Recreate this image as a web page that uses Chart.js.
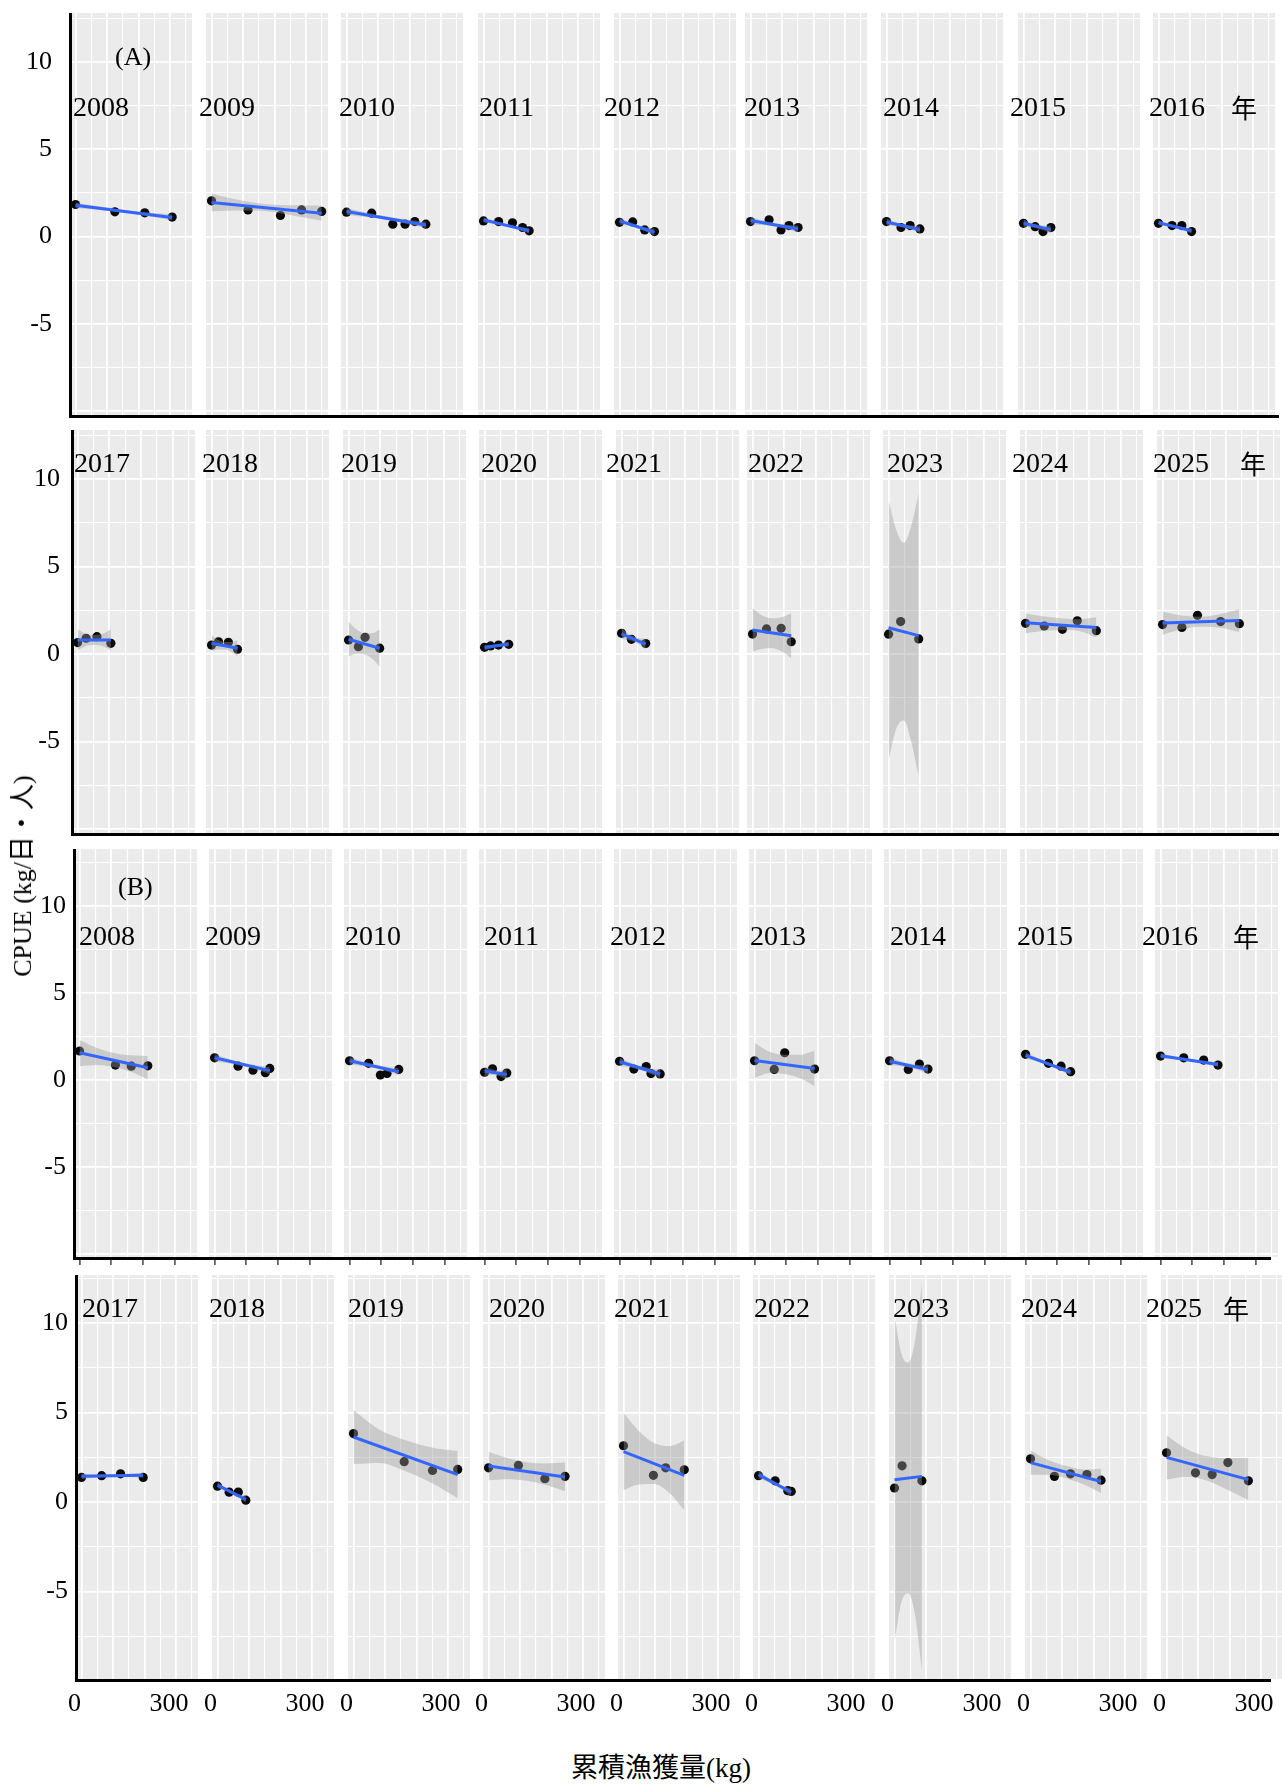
<!DOCTYPE html>
<html>
<head>
<meta charset="utf-8">
<script src="https://cdn.jsdelivr.net/npm/chart.js@4.4.1/dist/chart.umd.min.js"></script>
<style>
  html, body { margin: 0; padding: 0; background: #fff; }
  body { width: 1282px; height: 1787px; position: relative; overflow: hidden;
         font-family: "Liberation Serif", "Noto Sans CJK JP", serif; color: #000; }
  canvas { position: absolute; }
  .t { position: absolute; white-space: nowrap; line-height: 1; }
  .rule { position: absolute; background: #000; }
</style>
</head>
<body>
<script>
// ---- data: cumulative catch (kg) and CPUE (kg/day/person), per fishing year ----
const years = ['2008','2009','2010','2011','2012','2013','2014','2015','2016',
               '2017','2018','2019','2020','2021','2022','2023','2024','2025'];

// (A)
const catchA = [
  [0,125,220,307], [0,116,219,286,350], [0,80,147,186,217,252], [0,48,92,124,145], [0,42,80,111],
  [0,59,97,122,151], [0,46,75,106], [0,37,62,87], [0,43,74,105],
  [0,27,61,105], [0,22,53,82], [0,31,52,98], [0,19,44,76], [0,31,76],
  [0,44,90,122], [0,38,95], [0,59,116,163,223], [0,61,110,183,242]
];
const cpueA = [
  [1.84,1.42,1.36,1.12], [2.05,1.53,1.21,1.53,1.44], [1.40,1.34,0.71,0.71,0.86,0.71], [0.90,0.86,0.79,0.52,0.33], [0.82,0.84,0.38,0.29],
  [0.86,0.96,0.38,0.63,0.52], [0.86,0.52,0.63,0.44], [0.76,0.57,0.29,0.52], [0.76,0.63,0.63,0.29],
  [0.65,0.90,0.99,0.61], [0.51,0.70,0.67,0.27], [0.80,0.42,0.95,0.33], [0.38,0.46,0.51,0.55], [1.18,0.84,0.60],
  [1.14,1.43,1.47,0.70], [1.13,1.85,0.86], [1.75,1.60,1.41,1.90,1.33], [1.68,1.52,2.21,1.85,1.73]
];
// fitted CPUE at the first and last catch value
const fitA = [
  [1.80,1.10], [1.95,1.34], [1.44,0.67], [0.96,0.33], [0.90,0.25], [0.92,0.44], [0.84,0.40], [0.76,0.40], [0.80,0.33],
  [0.80,0.80], [0.61,0.33], [0.84,0.33], [0.37,0.57], [1.15,0.57], [1.37,1.04], [1.50,1.05], [1.79,1.52], [1.77,1.92]
];
// confidence band at 0, 1/4, 1/2, 3/4 and the whole of each year's catch range
const bandHiA = [
  [1.96,1.73,1.53,1.38,1.26], [2.45,2.10,1.85,1.79,1.77], [1.64,1.38,1.16,0.98,0.85], [1.11,0.89,0.72,0.58,0.48], [1.10,0.86,0.68,0.53,0.45],
  [1.14,0.93,0.78,0.68,0.64], [1.04,0.85,0.72,0.63,0.60], [0.98,0.81,0.69,0.63,0.62], [0.95,0.78,0.65,0.55,0.48],
  [1.41,1.15,1.09,1.15,1.41], [1.06,0.82,0.69,0.68,0.78], [1.84,1.41,1.19,1.18,1.42], [0.52,0.52,0.55,0.62,0.72], [1.45,1.19,1.01,0.90,0.87],
  [2.61,2.20,2.04,2.10,2.33], [8.8,7.1,6.35,7.3,9.2], [2.32,2.15,2.04,1.98,2.10], [2.42,2.20,2.13,2.28,2.55]
];
const bandLoA = [
  [1.64,1.52,1.37,1.17,0.94], [1.45,1.50,1.45,1.19,0.91], [1.24,1.12,0.96,0.74,0.49], [0.81,0.71,0.58,0.40,0.18], [0.70,0.62,0.48,0.29,0.05],
  [0.70,0.67,0.58,0.44,0.24], [0.64,0.61,0.52,0.39,0.20], [0.54,0.53,0.47,0.35,0.18], [0.65,0.58,0.49,0.35,0.18],
  [0.19,0.45,0.51,0.45,0.19], [0.16,0.26,0.25,0.12,-0.12], [-0.16,0.01,-0.02,-0.26,-0.72], [0.22,0.32,0.39,0.42,0.42], [0.85,0.82,0.71,0.53,0.27],
  [0.13,0.30,0.33,0.15,-0.25], [-6.1,-4.3,-3.8,-5.0,-7.0], [1.18,1.33,1.37,1.32,0.95], [1.10,1.42,1.56,1.50,1.25]
];

// (B)
const catchB = [
  [0,113,163,215], [0,74,121,160,174], [0,60,97,118,155], [0,25,52,70], [0,45,84,99,128],
  [0,62,95,189], [0,59,94,121], [0,72,112,142], [0,73,136,181],
  [0,64,124,196], [0,37,66,90], [0,161,251,331], [0,95,179,243], [0,95,134,193],
  [0,53,93,104], [0,24,87], [0,76,127,179,224], [0,92,145,195,260]
];
const cpueB = [
  [1.67,0.86,0.80,0.82], [1.28,0.80,0.57,0.42,0.67], [1.11,0.96,0.29,0.38,0.61], [0.45,0.65,0.20,0.40], [1.08,0.63,0.78,0.37,0.35],
  [1.11,0.61,1.57,0.63], [1.11,0.61,0.92,0.63], [1.48,0.96,0.80,0.48], [1.38,1.28,1.15,0.86],
  [1.37,1.47,1.57,1.37], [0.88,0.55,0.55,0.10], [3.82,2.25,1.76,1.82], [1.91,2.04,1.30,1.43], [3.14,1.49,1.91,1.80],
  [1.47,1.18,0.63,0.59], [0.78,2.02,1.18], [2.41,1.43,1.57,1.53,1.22], [2.75,1.63,1.53,2.20,1.18]
];
const fitB = [
  [1.57,0.71], [1.28,0.54], [1.11,0.48], [0.52,0.32], [1.05,0.35], [1.13,0.67], [1.08,0.60], [1.42,0.45], [1.40,0.90],
  [1.43,1.49], [0.94,0.14], [3.63,1.53], [2.01,1.40], [2.81,1.49], [1.53,0.54], [1.24,1.43], [2.20,1.14], [2.49,1.25]
];
const bandHiB = [
  [2.30,1.85,1.55,1.42,1.38], [1.50,1.23,1.01,0.85,0.74], [1.33,1.09,0.91,0.77,0.70], [0.82,0.65,0.57,0.55,0.62], [1.30,1.03,0.82,0.68,0.60],
  [2.14,1.62,1.45,1.45,1.69], [1.33,1.11,0.96,0.87,0.85], [1.60,1.29,1.03,0.80,0.63], [1.54,1.36,1.22,1.11,1.04],
  [1.57,1.54,1.53,1.57,1.63], [1.12,0.85,0.63,0.45,0.32], [5.14,4.03,3.45,3.05,2.85], [2.81,2.45,2.22,2.15,2.20], [4.97,3.98,3.30,3.12,3.44],
  [1.75,1.41,1.14,0.91,0.74], [10.4,8.3,7.8,9.0,12.2], [2.88,2.35,2.02,1.82,1.86], [3.73,2.95,2.55,2.45,2.45]
];
const bandLoB = [
  [0.80,0.87,0.75,0.48,0.04], [1.06,0.97,0.81,0.61,0.34], [0.89,0.81,0.69,0.51,0.26], [0.22,0.29,0.27,0.19,0.02], [0.80,0.73,0.58,0.38,0.10],
  [0.12,0.41,0.35,0.12,-0.35], [0.83,0.81,0.72,0.57,0.35], [1.24,1.07,0.85,0.58,0.27], [1.26,1.20,1.08,0.95,0.76],
  [1.29,1.36,1.39,1.39,1.35], [0.76,0.63,0.45,0.23,-0.04], [2.12,2.18,1.71,1.06,0.21], [1.21,1.27,1.18,0.95,0.60], [0.65,0.98,1.00,0.52,-0.46],
  [1.31,1.15,0.94,0.67,0.34], [-7.8,-5.6,-5.1,-6.3,-9.4], [1.52,1.52,1.32,0.99,0.50], [1.25,1.41,1.19,0.67,0.10]
];

const bandSteps = [0, 0.25, 0.5, 0.75, 1];
const xTickLabels = [0, 300];
const yTickLabels = [-5, 0, 5, 10];
const xRange = [-17.5, 370];

const parts = {
  A: { catch: catchA, cpue: cpueA, fit: fitA, hi: bandHiA, lo: bandLoA },
  B: { catch: catchB, cpue: cpueB, fit: fitB, hi: bandHiB, lo: bandLoB }
};

// ---- page layout: four rows of nine facets ----
const rows = [
  { part: 'A', first: 0, top: 13,   bottom: 415,  ymin: -10.23, ymax: 12.82, width: 122, right: 1279, tickPad: 18,
    lefts: [70,206,341,478,614,745,881,1018,1153], labelY: 107, labelX: [73,199,339,479,604,744,883,1010,1149], nenX: 1231 },
  { part: 'A', first: 9, top: 430,  bottom: 833,  ymin: -10.23, ymax: 12.8,  width: 123, right: 1279, tickPad: 12,
    lefts: [72,206,343,479,616,747,883,1020,1157], labelY: 463, labelX: [74,202,341,481,606,748,887,1012,1153], nenX: 1240 },
  { part: 'B', first: 0, top: 849,  bottom: 1257, ymin: -10.17, ymax: 13.28, width: 123, right: 1271, tickPad: 8,
    lefts: [74,209,344,479,614,749,884,1020,1155], labelY: 936, labelX: [79,205,345,484,610,750,890,1017,1142], nenX: 1233 },
  { part: 'B', first: 9, top: 1275, bottom: 1679, ymin: -9.89, ymax: 12.68, width: 122, right: 1271, tickPad: 8,
    lefts: [76,212,348,483,618,753,889,1025,1161], labelY: 1308, labelX: [82,209,348,489,614,754,893,1021,1146], nenX: 1223 }
];

const serif = 'Liberation Serif';

// grey panel background under the grid
const panelBg = {
  id: 'panelBg',
  beforeDraw(chart) {
    const { ctx, chartArea: a } = chart;
    ctx.save();
    ctx.fillStyle = '#EBEBEB';
    ctx.fillRect(a.left, a.top, a.right - a.left, a.bottom - a.top);
    ctx.restore();
  }
};

function addText(txt, left, top, size, extra) {
  const d = document.createElement('div');
  d.className = 't';
  d.textContent = txt;
  d.style.left = left + 'px';
  d.style.top = top + 'px';
  d.style.fontSize = size + 'px';
  if (extra) Object.assign(d.style, extra);
  document.body.appendChild(d);
  return d;
}

rows.forEach((row, r) => {
  const src = parts[row.part];
  const isBottomRow = r === 3;
  const hasTickMarks = r === 2;
  const xAxisH = isBottomRow ? 50 : (hasTickMarks ? 8 : 0);

  row.lefts.forEach((left, c) => {
    const k = row.first + c;
    const isFirst = c === 0;
    const xs = src.catch[k], ys = src.cpue[k];
    const x0 = xs[0], x1 = xs[xs.length - 1];
    const bx = bandSteps.map(t => x0 + t * (x1 - x0));

    // room on the left for the y tick labels, or for the "0" label of the bottom row
    const margin = isFirst ? left : (isBottomRow ? 20 : 0);
    const cv = document.createElement('canvas');
    const cLeft = left - margin;
    const cw = row.width + margin + (isBottomRow ? 12 : 0);
    const ch = (row.bottom - row.top) + xAxisH;
    cv.width = cw; cv.height = ch;
    cv.style.left = cLeft + 'px';
    cv.style.top = row.top + 'px';
    cv.style.width = cw + 'px';
    cv.style.height = ch + 'px';
    document.body.appendChild(cv);

    new Chart(cv, {
      type: 'line',
      data: {
        datasets: [
          { data: src.hi[k].map((v, i) => ({ x: bx[i], y: v })), borderWidth: 0, pointRadius: 0,
            fill: '+1', backgroundColor: 'rgba(153,153,153,0.4)', cubicInterpolationMode: 'monotone', order: 3 },
          { data: src.lo[k].map((v, i) => ({ x: bx[i], y: v })), borderWidth: 0, pointRadius: 0,
            fill: false, cubicInterpolationMode: 'monotone', order: 3 },
          { data: [{ x: x0, y: src.fit[k][0] }, { x: x1, y: src.fit[k][1] }], borderColor: '#3366FF',
            borderWidth: 3, pointRadius: 0, fill: false, order: 1 },
          { data: xs.map((x, i) => ({ x, y: ys[i] })), showLine: false, pointRadius: 4.6,
            pointBackgroundColor: '#0a0a0a', pointBorderWidth: 0, order: 4 }
        ]
      },
      options: {
        responsive: false,
        animation: false,
        devicePixelRatio: 1,
        events: [],
        layout: { padding: { left: 0, top: 0, bottom: 0, right: isBottomRow ? 12 : 0 }, autoPadding: false },
        plugins: { legend: { display: false }, tooltip: { enabled: false }, title: { display: false } },
        scales: {
          x: {
            type: 'linear', min: xRange[0], max: xRange[1],
            ticks: {
              display: isBottomRow, stepSize: 50, includeBounds: false, autoSkip: false,
              maxRotation: 0, minRotation: 0, padding: 10, labelOffset: -7,
              color: '#000', font: { family: serif, size: 26 },
              callback: v => (xTickLabels.includes(v) ? String(v) : '')
            },
            grid: {
              color: '#FFFFFF',
              lineWidth: ctx => (ctx.tick && ctx.tick.value % 100 === 0 ? 1.8 : 1.1),
              drawTicks: hasTickMarks, tickLength: 8, tickWidth: 1.5,
              tickColor: ctx => (ctx.tick && ctx.tick.value % 100 === 0 ? '#444' : 'rgba(0,0,0,0)')
            },
            border: { display: false },
            afterFit: s => { s.height = xAxisH; s.paddingLeft = 0; s.paddingRight = 0; s.paddingTop = 0; s.paddingBottom = 0; }
          },
          y: {
            type: 'linear', min: row.ymin, max: row.ymax,
            ticks: {
              display: isFirst, stepSize: 2.5, includeBounds: false, autoSkip: false,
              padding: row.tickPad, color: '#000', font: { family: serif, size: 26 },
              callback: v => (yTickLabels.includes(v) ? String(v) : '')
            },
            grid: {
              color: '#FFFFFF',
              lineWidth: ctx => (ctx.tick && ctx.tick.value % 5 === 0 ? 1.8 : 1.1),
              drawTicks: false
            },
            border: { display: isFirst, color: '#000', width: 3 },
            afterFit: s => { s.width = margin; s.paddingLeft = 0; s.paddingRight = 0; s.paddingTop = 0; s.paddingBottom = 0; }
          }
        }
      },
      plugins: [panelBg]
    });

    addText(years[k], row.labelX[c], row.labelY - 14, 28);
  });

  // bottom axis rule of the row
  const rule = document.createElement('div');
  rule.className = 'rule';
  rule.style.left = (row.lefts[0] - 1.5) + 'px';
  rule.style.top = row.bottom + 'px';
  rule.style.width = (row.right - row.lefts[0] + 1.5) + 'px';
  rule.style.height = '3px';
  document.body.appendChild(rule);

  addText('年', row.nenX, row.labelY - 13, 26, { fontFamily: '"Noto Sans CJK JP", sans-serif' });
});

addText('(A)', 115, 44, 26);
addText('(B)', 118, 874, 26);

// axis titles
addText('CPUE (kg/日・人)', 23, 876, 26, { transform: 'translate(-50%, -50%) rotate(-90deg)' });
addText('累積漁獲量(kg)', 661, 1768, 27, { transform: 'translate(-50%, -50%)' });
</script>
</body>
</html>
